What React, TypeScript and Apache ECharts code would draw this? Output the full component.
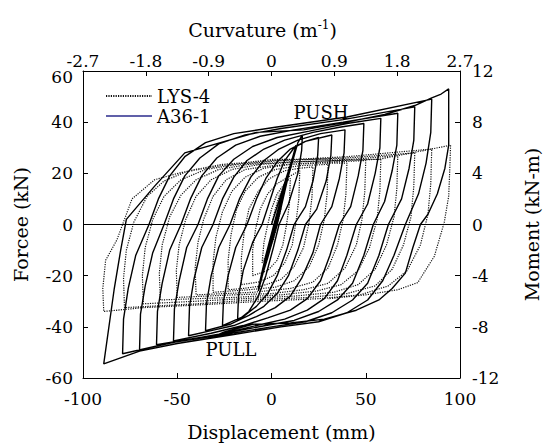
import React, { useEffect, useRef } from "react";
import * as echarts from "echarts";

const seriesNames = ["LYS-4", "A36-1"];
const dispAxis = [-100, 100, 50];
const forceAxis = [-60, 60, 20];
const curvAxis = [-2.7, 2.7, 0.9];
const momentAxis = [-12, 12, 4];

// LYS-4 hysteresis (displacement mm, force kN)
const lys4: number[][] = [
  [0, 0], [2, 6], [4, 11], [6, 14], [5, 6], [3, 0], [1, -6], [-2, -11], [-5, -15], [-4, -7], [-2, 0], [0, 6], [3, 12], [6, 15], [8, 17], [10, 18],
  [9.5, 8], [8, 0], [6, -8], [3, -14], [-2, -18], [-10, -20],
  [-10, -10], [-8.5, -2], [-6, 6], [-2, 12], [3, 16], [10, 19], [15, 21],
  [14.5, 10], [13, 1], [11, -8], [7, -15], [1, -20], [-7, -22.5], [-16, -23.5],
  [-16, -13], [-14.5, -3], [-12, 6], [-7, 13], [-1, 18], [7, 21], [15, 22], [22, 22.5],
  [21.5, 11], [20, 1], [17, -9], [12, -16.5], [5, -21.5], [-5, -24], [-15, -25], [-23, -25.5],
  [-23, -14], [-21.5, -4], [-18.5, 6], [-14, 13], [-7, 18.5], [2, 21.5], [15, 23], [30, 23.5],
  [29.5, 12], [28, 2], [25, -8], [20, -16.5], [12, -22], [2, -24.5], [-12, -25.5], [-31, -26.5],
  [-31, -15], [-29.5, -5], [-26, 5], [-21, 13], [-14, 18.5], [-4, 22], [10, 23.5], [25, 24], [40, 24],
  [39.5, 12], [38, 2], [35, -8], [30, -17], [22, -22.5], [10, -25], [-10, -26.5], [-25, -27], [-40, -27.5],
  [-40.5, -17], [-39, -7], [-36, 2], [-31, 11], [-24, 17.5], [-14, 21.5], [0, 23], [20, 24], [35, 24.5], [50, 25],
  [49.5, 13], [48, 2], [45, -8], [39, -17], [30, -23], [17, -25.5], [0, -27], [-20, -27.5], [-35, -28], [-50, -28.5],
  [-50.5, -18], [-49, -8], [-45.5, 2], [-40, 11], [-32, 17.5], [-21, 21.5], [-6, 23.5], [15, 24.5], [35, 25], [58, 25.5],
  [57.5, 13], [56, 2], [52, -9], [46, -18], [37, -23.5], [24, -26], [5, -27.5], [-20, -28.5], [-40, -29], [-59, -29.5],
  [-59.5, -19], [-58, -8], [-54, 3], [-48, 11.5], [-40, 17.5], [-28, 21.5], [-12, 23.5], [10, 24.5], [35, 25], [67, 27],
  [66.5, 14], [65, 3], [61, -8], [55, -17.5], [46, -23.5], [33, -26.5], [12, -28], [-15, -29], [-40, -30], [-68, -31],
  [-68.5, -20], [-67, -9], [-63, 2], [-57, 11], [-48, 17.5], [-35, 21.5], [-18, 23.5], [5, 25], [40, 26], [76, 28],
  [75.5, 15], [74, 3], [70, -8], [64, -17.5], [55, -24], [40, -27], [20, -28.5], [-10, -29.5], [-40, -31], [-78, -32.5],
  [-78.5, -21], [-77, -10], [-73, 1], [-66, 11], [-57, 17], [-44, 21], [-26, 23.5], [0, 25], [40, 26.5], [85, 29.5],
  [84.5, 16], [83, 4], [79, -8], [72, -18], [62, -24], [47, -27.5], [25, -29], [-5, -30], [-40, -31.5], [-68, -32.5], [-89, -34],
  [-89.5, -25], [-88, -14], [-82, -6], [-74, 10], [-62, 17.5], [-48, 20.3], [-27, 23], [1, 25.5], [30, 25.5], [57, 25.5], [71, 27.5], [93, 30.7], [95, 31],
  [94.5, 20], [94, 11], [91.6, 0.7], [86.4, -12.4], [77.6, -22.7], [67, -25.5], [50, -27.5], [30, -29],
];

// A36-1 hysteresis (displacement mm, force kN)
const a36: number[][] = [
  [0, 0], [6, 14], [12, 28], [13, 30], [8, 18], [2, 2], [-3, -12], [-7, -25], [-2, -13], [3, 0], [8, 16], [13, 31], [7, 15], [2, 0], [-3, -13], [-7, -26], [-2, -12], [3, 1], [9, 19], [14, 32],
  [16.4, 35], [16, 29], [14, 20], [9, 8], [4, 0], [1, -9], [-3, -20], [-7, -28], [-12, -34], [-18, -37.5],
  [-17.5, -28], [-15, -18], [-10, -7], [-5, 0], [-1, 9], [3, 18], [7, 25], [12, 30], [18, 32.5], [25, 34],
  [24.5, 27], [22, 17], [18, 7], [12, 0], [8, -10], [3, -20], [-2, -27], [-8, -32], [-15, -36], [-26, -39.5],
  [-25.5, -30], [-23, -20], [-19, -9], [-13, 0], [-8, 10], [-3, 18], [3, 24.5], [10, 29.5], [18, 32.5], [32, 35],
  [31.5, 27], [29, 17], [24, 6], [18, 0], [14, -10], [9, -20], [3, -27], [-4, -32], [-12, -35.5], [-22, -39], [-35, -41.5],
  [-34.5, -31], [-32, -20], [-28, -9], [-22, 0], [-17, 10], [-11, 18.5], [-4, 25], [4, 29.5], [14, 33], [26, 35.5], [39, 37],
  [38.5, 28], [36, 18], [32, 7], [26, 0], [22, -11], [16, -21], [10, -28], [2, -32.5], [-8, -36], [-20, -39.5], [-32, -41.5], [-44, -43.5],
  [-43.5, -32], [-41, -21], [-37, -9], [-31, 0], [-26, 10], [-20, 18.5], [-13, 25], [-4, 29.5], [7, 33], [22, 36], [36, 38], [49, 39.5],
  [48.5, 29], [46, 19], [42, 7], [36, 0], [31, -12], [26, -22], [19, -29], [10, -33.5], [-2, -36.5], [-15, -39.5], [-32, -42.5], [-52, -45.5],
  [-51.5, -33], [-49, -22], [-45, -9], [-39, 0], [-34, 10], [-28, 19], [-20, 25.5], [-10, 30.5], [3, 34], [20, 36.5], [40, 39.5], [58, 41.5],
  [57.5, 30], [55, 20], [51, 8], [45, 0], [40, -12], [35, -22], [28, -29], [19, -33.5], [7, -37], [-8, -39.5], [-28, -43], [-45, -45], [-61, -47],
  [-60.5, -34], [-58, -23], [-54, -10], [-48, 0], [-43, 10], [-37, 19], [-29, 26], [-19, 31], [-6, 34.5], [12, 37], [38, 40], [67, 43.5],
  [66.5, 31], [64, 21], [60, 9], [54, 0], [49, -12], [43, -23], [35, -29.5], [25, -34], [12, -37.5], [-3, -39.5], [-25, -42.5], [-48, -45.5], [-70, -49],
  [-69.5, -35], [-67, -24], [-63, -11], [-57, 0], [-52, 10], [-46, 19], [-38, 26], [-28, 31.5], [-14, 35], [5, 37.5], [38, 41], [76, 46],
  [75.5, 33], [73, 22], [69, 10], [62, 0], [57, -12], [51, -23], [43, -29.5], [32, -34.5], [18, -38], [0, -40], [-25, -43], [-52, -46], [-79, -50.5],
  [-78.5, -37], [-76, -25], [-72, -12], [-65, 0], [-60, 10], [-54, 19], [-46, 26.5], [-35, 32], [-20, 35.5], [2, 38], [40, 42], [85, 49],
  [84.5, 36], [82, 24], [78, 12], [71, 0], [65, -12], [59, -22], [51, -29.5], [40, -34.5], [25, -38], [5, -40], [-20, -43], [-50, -46.5], [-70, -49.5], [-89, -54.5],
  [-83.5, -25.5], [-80, -10], [-77, 2], [-62, 15], [-46, 28], [-8, 36], [17, 37], [40, 40], [60, 43], [76, 46.5], [85, 49.5], [90, 51], [94, 53],
  [94, 31], [92, 22], [88, 12], [83, 4], [79, 0], [75, -9], [71, -19], [64, -25], [57, -29.5], [45, -33.5], [28, -37], [10, -38.5], [-10, -39], [-25, -42], [-33, -44.5], [-42, -45.5],
];

const annotations = ["PUSH", "PULL"];

export default function App() {
  const ref = useRef<HTMLDivElement>(null);
  useEffect(() => {
    const chart = echarts.init(ref.current!, null, { renderer: "svg" });
    const font = "DejaVu Serif";
    const axisLine = { show: true, onZero: false, lineStyle: { color: "#000", width: 1 } };
    const tick = { show: true, inside: true, length: 5, lineStyle: { color: "#000", width: 1 } };
    const lbl = (margin: number) => ({ color: "#000", fontSize: 17, fontFamily: font, margin });
    const nameStyle = { color: "#000", fontSize: 19, fontFamily: font };
    chart.setOption({
      animation: false,
      backgroundColor: "#fff",
      textStyle: { fontFamily: font },
      grid: { left: 83, right: 82, top: 71, bottom: 70 },
      legend: {
        orient: "vertical",
        left: 105,
        top: 87,
        padding: 0,
        itemGap: 2,
        itemWidth: 46,
        itemHeight: 14,
        itemStyle: { opacity: 0 },
        textStyle: { color: "#000", fontSize: 18, fontFamily: font },
        data: [
          { name: seriesNames[0] },
          { name: seriesNames[1], lineStyle: { color: "#2b2b8c", width: 1.5, type: "solid" } },
        ],
      },
      xAxis: [
        {
          type: "value", position: "bottom", min: dispAxis[0], max: dispAxis[1], interval: dispAxis[2],
          axisLine, axisTick: tick, axisLabel: lbl(12), splitLine: { show: false },
          name: "Displacement (mm)", nameLocation: "middle", nameGap: 44,
          nameTextStyle: { ...nameStyle, padding: [0, 0, 0, 20] },
        },
        {
          type: "value", position: "top", min: curvAxis[0], max: curvAxis[1], interval: curvAxis[2],
          axisLine, axisTick: tick,
          axisLabel: { ...lbl(2), formatter: (v: number) => String(Math.round(v * 10) / 10) },
          splitLine: { show: false },
          name: "{a|Curvature (m}{b|-1}{a|)}", nameLocation: "middle", nameGap: 30,
          nameTextStyle: {
            ...nameStyle,
            padding: [0, 18, 0, 0],
            rich: {
              a: { fontSize: 19, fontFamily: font, color: "#000", lineHeight: 22 },
              b: { fontSize: 12, fontFamily: font, color: "#000", verticalAlign: "top", lineHeight: 22 },
            },
          },
        },
      ],
      yAxis: [
        {
          type: "value", position: "left", min: forceAxis[0], max: forceAxis[1], interval: forceAxis[2],
          axisLine, axisTick: tick, splitLine: { show: false },
          axisLabel: {
            ...lbl(10),
            formatter: (v: number) => (v === forceAxis[1] ? "{low|" + v + "}" : String(v)),
            rich: { low: { fontSize: 17, fontFamily: font, color: "#000", padding: [12, 0, 0, 0] } },
          },
          name: "Forcee (kN)", nameLocation: "middle", nameGap: 53, nameTextStyle: nameStyle,
        },
        {
          type: "value", position: "right", min: momentAxis[0], max: momentAxis[1], interval: momentAxis[2],
          axisLine, axisTick: tick, axisLabel: lbl(12), splitLine: { show: false },
          name: "Moment (kN-m)", nameLocation: "middle", nameGap: 62, nameTextStyle: nameStyle,
        },
      ],
      series: [
        {
          name: seriesNames[0], type: "line", data: lys4, xAxisIndex: 0, yAxisIndex: 0,
          symbol: "none", showSymbol: false, color: "#222",
          lineStyle: { color: "#111", width: 1.2, type: [1.2, 1.2] },
        },
        {
          name: seriesNames[1], type: "line", data: a36, xAxisIndex: 0, yAxisIndex: 0,
          symbol: "none", showSymbol: false, color: "#000",
          lineStyle: { color: "#000", width: 1.4, type: "solid" },
          markLine: {
            silent: true, symbol: "none", label: { show: false },
            lineStyle: { color: "#000", width: 1, type: "solid" },
            data: [{ yAxis: 0 }],
          },
        },
      ],
      graphic: [
        { type: "text", x: 321, y: 112, style: { text: annotations[0], fill: "#000", fontSize: 18, fontFamily: font, align: "center", verticalAlign: "middle" } },
        { type: "text", x: 231, y: 349, style: { text: annotations[1], fill: "#000", fontSize: 18, fontFamily: font, align: "center", verticalAlign: "middle" } },
      ],
    });
    return () => chart.dispose();
  }, []);
  return <div ref={ref} style={{ position: "fixed", left: 0, top: 0, width: 549, height: 448, background: "#fff" }} />;
}
